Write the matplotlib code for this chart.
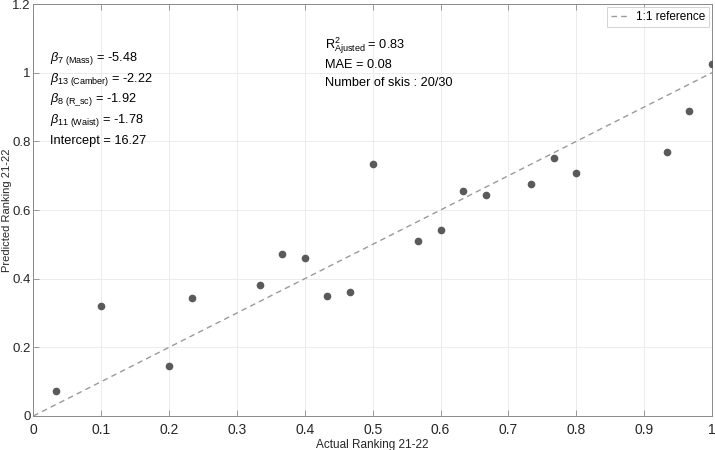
import matplotlib
matplotlib.use("Agg")
import matplotlib.pyplot as plt
import numpy as np

plt.rcParams['font.family'] = ['Liberation Sans', 'DejaVu Sans']
plt.rcParams['mathtext.fontset'] = 'custom'
plt.rcParams['mathtext.rm'] = 'Liberation Sans'
plt.rcParams['mathtext.it'] = 'Liberation Sans:italic'
plt.rcParams['mathtext.bf'] = 'Liberation Sans:bold'

# Data
actual_rank_idx = [1, 3, 6, 7, 10, 11, 12, 13, 14, 15, 17, 18, 19, 20, 22, 23, 24, 28, 29, 30]
n_skis = 30
predicted = [0.072, 0.319, 0.146, 0.344, 0.382, 0.473, 0.459, 0.349, 0.361, 0.734,
             0.510, 0.543, 0.656, 0.643, 0.676, 0.752, 0.707, 0.769, 0.888, 1.024]
ref_line = [0, 1]
xticks = [0, 0.1, 0.2, 0.3, 0.4, 0.5, 0.6, 0.7, 0.8, 0.9, 1]
yticks = [0, 0.2, 0.4, 0.6, 0.8, 1, 1.2]
coef_text = [
    r'$\beta_{\mathregular{7\ (Mass)}}$ = -5.48',
    r'$\beta_{\mathregular{13\ (Camber)}}$ = -2.22',
    r'$\beta_{\mathregular{8\ (R\_sc)}}$ = -1.92',
    r'$\beta_{\mathregular{11\ (Waist)}}$ = -1.78',
    'Intercept = 16.27',
]
stats_text = [
    r'R$^{\mathregular{2}}_{\mathregular{Ajusted}}$ = 0.83',
    'MAE = 0.08',
    'Number of skis : 20/30',
]

actual = np.array(actual_rank_idx) / n_skis

fig = plt.figure(figsize=(7.15, 4.5), dpi=100)
ax = fig.add_axes([0.0466, 0.0756, 0.9492, 0.9154])

ax.plot(ref_line, ref_line, linestyle=(0, (4, 3)), color='#9a9a9a', lw=1.0,
        label='1:1 reference', zorder=2)
ax.plot(actual, predicted, 'o', color='#5a5a5a', markersize=4.5, zorder=3)

ax.set_xlim(0, 1)
ax.set_ylim(0, 1.2)
ax.set_xticks(xticks)
ax.set_yticks(yticks)
ax.set_xticklabels(['0', '0.1', '0.2', '0.3', '0.4', '0.5', '0.6', '0.7', '0.8', '0.9', '1'])
ax.set_yticklabels(['0', '0.2', '0.4', '0.6', '0.8', '1', '1.2'])
ax.tick_params(direction='in', length=4, width=0.6, colors='#8a8a8a',
               labelcolor='#262626', labelsize=10, top=True, right=False)
ax.tick_params(axis='x', pad=5)
ax.tick_params(axis='y', pad=2, labelsize=9.5)
ax.grid(True, color='#ececec', lw=0.7)
for s in ax.spines.values():
    s.set_color('#8a8a8a')
    s.set_linewidth(0.7)

ax.set_xlabel('Actual Ranking 21-22', fontsize=8.5, color='#262626')
ax.set_ylabel('Predicted Ranking 21-22', fontsize=8, color='#262626')
ax.xaxis.set_label_coords(0.5, -0.057)
ax.yaxis.set_label_coords(-0.031, 0.5)

leg = ax.legend(loc='upper right', fontsize=8.5, frameon=True, fancybox=False,
                handlelength=1.6, borderpad=0.35, borderaxespad=0.25, handletextpad=0.5)
leg.get_frame().set_edgecolor('#c8c8c8')
leg.get_frame().set_linewidth(0.7)

ys_coef = [1.042, 0.979, 0.921, 0.862, 0.800]
for t, yy in zip(coef_text, ys_coef):
    ax.text(0.024, yy, t, fontsize=9.2, color='black', va='center', ha='left')

ys_stats = [1.08, 1.023, 0.97]
for t, yy in zip(stats_text, ys_stats):
    ax.text(0.43, yy, t, fontsize=9.2, color='black', va='center', ha='left')

fig.savefig('out.png', dpi=100)
